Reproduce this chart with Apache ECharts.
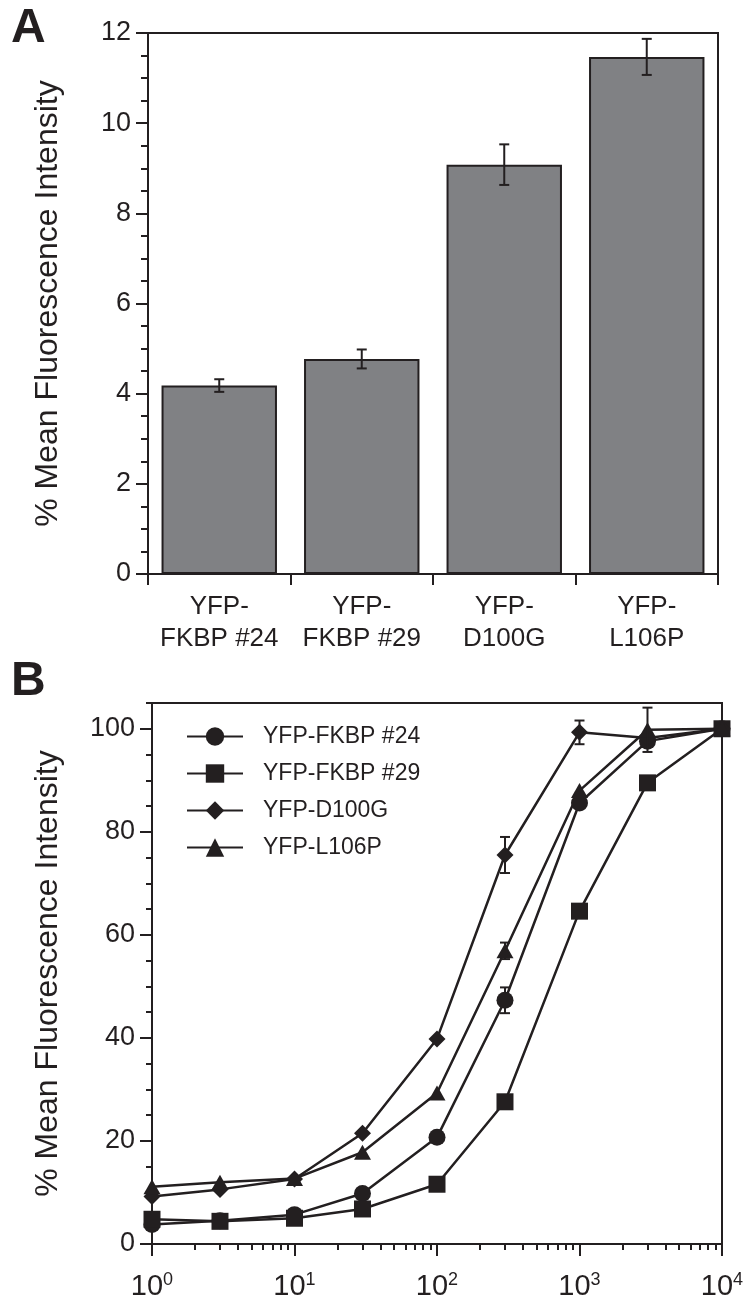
<!DOCTYPE html>
<html><head><meta charset="utf-8">
<script src="https://cdn.jsdelivr.net/npm/echarts@6/dist/echarts.min.js"></script>
<style>html,body{margin:0;padding:0;background:#fff}#c{width:753px;height:1303px}</style>
</head><body><div id="c"></div>
<script>
// ---- Panel A data ----
const barCategories = ['YFP-\nFKBP #24', 'YFP-\nFKBP #29', 'YFP-\nD100G', 'YFP-\nL106P'];
const barValues = [4.18, 4.77, 9.08, 11.47];
const barErrors = [0.14, 0.21, 0.45, 0.40];

// ---- Panel B data ----
const concentrations = [1, 3, 10, 30, 100, 300, 1000, 3000, 10000];
const seriesNames = ['YFP-FKBP #24', 'YFP-FKBP #29', 'YFP-D100G', 'YFP-L106P'];
const fkbp24 = [3.8, 4.5, 5.7, 9.8, 20.7, 47.3, 85.6, 97.6, 100];
const fkbp29 = [4.8, 4.4, 5.0, 6.8, 11.6, 27.6, 64.6, 89.5, 100];
const d100g  = [9.2, 10.6, 12.6, 21.5, 39.8, 75.5, 99.3, 98.2, 100];
const l106p  = [11.1, 12.0, 12.7, 17.8, 29.3, 56.9, 88.0, 99.8, 100];
const fkbp24Err = [0, 0, 0, 0, 0, 2.5, 0, 0, 0];
const fkbp29Err = [0, 0, 0, 0, 0, 0, 0, 0, 0];
const d100gErr  = [0, 0, 0, 0, 0, 3.5, 2.3, 0, 0];
const l106pErr  = [0, 0, 0, 0, 0, 1.6, 0, 4.3, 0];

// ---- tick values ----
const yMajorB = [0, 20, 40, 60, 80, 100];
const yMinorB = [0, 5, 10, 15, 20, 25, 30, 35, 40, 45, 50, 55, 60, 65, 70, 75, 80, 85, 90, 95, 100, 105];
const logMinorTicks = [2,3,4,5,6,7,8,9,20,30,40,50,60,70,80,90,200,300,400,500,600,700,800,900,2000,3000,4000,5000,6000,7000,8000,9000];

const ink = '#231f20';
const font = "'Liberation Sans', Arial, Helvetica, sans-serif";

function errData(xs, ys, es) {
  const out = [];
  for (let i = 0; i < xs.length; i++) if (es[i] > 0) out.push([xs[i], ys[i], es[i]]);
  return out;
}
function errorSeries(xi, yi, data, capHalf) {
  return {
    type: 'custom', xAxisIndex: xi, yAxisIndex: yi, data: data, z: 5, silent: true, clip: false,
    renderItem: function (params, api) {
      const x = api.value(0), y = api.value(1), e = api.value(2);
      const t = api.coord([x, y + e]), b = api.coord([x, y - e]);
      const st = { stroke: ink, lineWidth: 2 };
      return { type: 'group', children: [
        { type: 'line', shape: { x1: t[0], y1: t[1], x2: b[0], y2: b[1] }, style: st },
        { type: 'line', shape: { x1: t[0] - capHalf, y1: t[1], x2: t[0] + capHalf, y2: t[1] }, style: st },
        { type: 'line', shape: { x1: b[0] - capHalf, y1: b[1], x2: b[0] + capHalf, y2: b[1] }, style: st }
      ]};
    }
  };
}
function pairs(xs, ys) { return xs.map((x, i) => [x, ys[i]]); }

const lineStyleB = { color: ink, width: 2.5 };
function lineSeries(name, ys, symbol, size) {
  return {
    name: name, type: 'line', xAxisIndex: 1, yAxisIndex: 1, data: pairs(concentrations, ys),
    symbol: symbol, symbolSize: size, showAllSymbol: true,
    lineStyle: lineStyleB, itemStyle: { color: ink, borderColor: ink, borderWidth: 0 }, z: 4
  };
}

const chart = echarts.init(document.getElementById('c'), null, { renderer: 'canvas' });
chart.setOption({
  animation: false,
  backgroundColor: '#fff',
  textStyle: { fontFamily: font, color: ink },
  title: [
    { text: 'A', left: 6, top: 0, textStyle: { fontSize: 48, fontWeight: 'bold', color: ink, fontFamily: font } },
    { text: 'B', left: 6, top: 653, textStyle: { fontSize: 48, fontWeight: 'bold', color: ink, fontFamily: font } }
  ],
  legend: {
    orient: 'vertical', left: 186, top: 725, padding: 0, itemWidth: 56, itemHeight: 23, itemGap: 14,
    data: seriesNames,
    textStyle: { fontSize: 23, color: ink, fontFamily: font, padding: [0, 0, 0, 15] }
  },
  grid: [
    { left: 148, top: 33, width: 570, height: 541, show: true, borderColor: ink, borderWidth: 2, backgroundColor: 'transparent' },
    { left: 152, top: 703, width: 570, height: 541, show: true, borderColor: ink, borderWidth: 2, backgroundColor: 'transparent' }
  ],
  xAxis: [
    { gridIndex: 0, type: 'category', data: barCategories, position: 'bottom',
      axisLine: { show: true, lineStyle: { color: ink, width: 2 } },
      axisTick: { show: true, length: 11, lineStyle: { color: ink, width: 2 } },
      axisLabel: { interval: 0, fontSize: 26, lineHeight: 32, margin: 17, color: ink, fontFamily: font },
      splitLine: { show: false } },
    { gridIndex: 1, type: 'log', logBase: 10, min: 1, max: 10000, position: 'bottom',
      axisLine: { show: true, lineStyle: { color: ink, width: 2 } },
      axisTick: { show: true, length: 12, lineStyle: { color: ink, width: 2 } },
      axisLabel: { margin: 27, color: ink,
        formatter: function (v) { return '{b|10}{s|' + Math.round(Math.log10(v)) + '}'; },
        rich: { b: { fontSize: 29, lineHeight: 32, fontFamily: font, color: ink },
                s: { fontSize: 18, lineHeight: 18, verticalAlign: 'top', fontFamily: font, color: ink } } },
      splitLine: { show: false } },
    { gridIndex: 1, type: 'log', logBase: 10, min: 1, max: 10000, position: 'bottom',
      axisLine: { show: false },
      axisTick: { show: true, length: 6, customValues: logMinorTicks, lineStyle: { color: ink, width: 2 } },
      axisLabel: { show: false }, splitLine: { show: false } }
  ],
  yAxis: [
    { gridIndex: 0, type: 'value', min: 0, max: 12, interval: 2, position: 'left',
      axisLine: { show: true, lineStyle: { color: ink, width: 2 } },
      axisTick: { show: true, length: 12, lineStyle: { color: ink, width: 2 } },
      minorTick: { show: true, splitNumber: 4, length: 7, lineStyle: { color: ink, width: 2 } },
      axisLabel: { fontSize: 27, margin: 17, color: ink, fontFamily: font },
      splitLine: { show: false },
      name: '% Mean Fluorescence Intensity', nameLocation: 'middle', nameGap: 84,
      nameTextStyle: { fontSize: 32, color: ink, fontFamily: font } },
    { gridIndex: 1, type: 'value', min: 0, max: 105, position: 'left',
      axisLine: { show: true, lineStyle: { color: ink, width: 2 } },
      axisTick: { show: true, length: 12, customValues: yMajorB, lineStyle: { color: ink, width: 2 } },
      axisLabel: { fontSize: 27, margin: 17, color: ink, fontFamily: font, customValues: yMajorB },
      splitLine: { show: false },
      name: '% Mean Fluorescence Intensity', nameLocation: 'middle', nameGap: 88,
      nameTextStyle: { fontSize: 32, color: ink, fontFamily: font } },
    { gridIndex: 1, type: 'value', min: 0, max: 105, position: 'left',
      axisLine: { show: false },
      axisTick: { show: true, length: 6, customValues: yMinorB, lineStyle: { color: ink, width: 2 } },
      axisLabel: { show: false }, splitLine: { show: false } }
  ],
  series: [
    { type: 'bar', xAxisIndex: 0, yAxisIndex: 0, data: barValues, barWidth: '81%',
      itemStyle: { color: '#808184', borderColor: ink, borderWidth: 2 }, z: 2 },
    errorSeries(0, 0, barValues.map((v, i) => [i, v, barErrors[i]]), 5),
    lineSeries(seriesNames[0], fkbp24, 'circle', 17),
    lineSeries(seriesNames[1], fkbp29, 'rect', 17),
    lineSeries(seriesNames[2], d100g, 'diamond', 17),
    lineSeries(seriesNames[3], l106p, 'triangle', [17, 15]),
    errorSeries(1, 1, errData(concentrations, fkbp24, fkbp24Err), 5),
    errorSeries(1, 1, errData(concentrations, fkbp29, fkbp29Err), 5),
    errorSeries(1, 1, errData(concentrations, d100g, d100gErr), 5),
    errorSeries(1, 1, errData(concentrations, l106p, l106pErr), 5)
  ]
});
</script>
</body></html>
